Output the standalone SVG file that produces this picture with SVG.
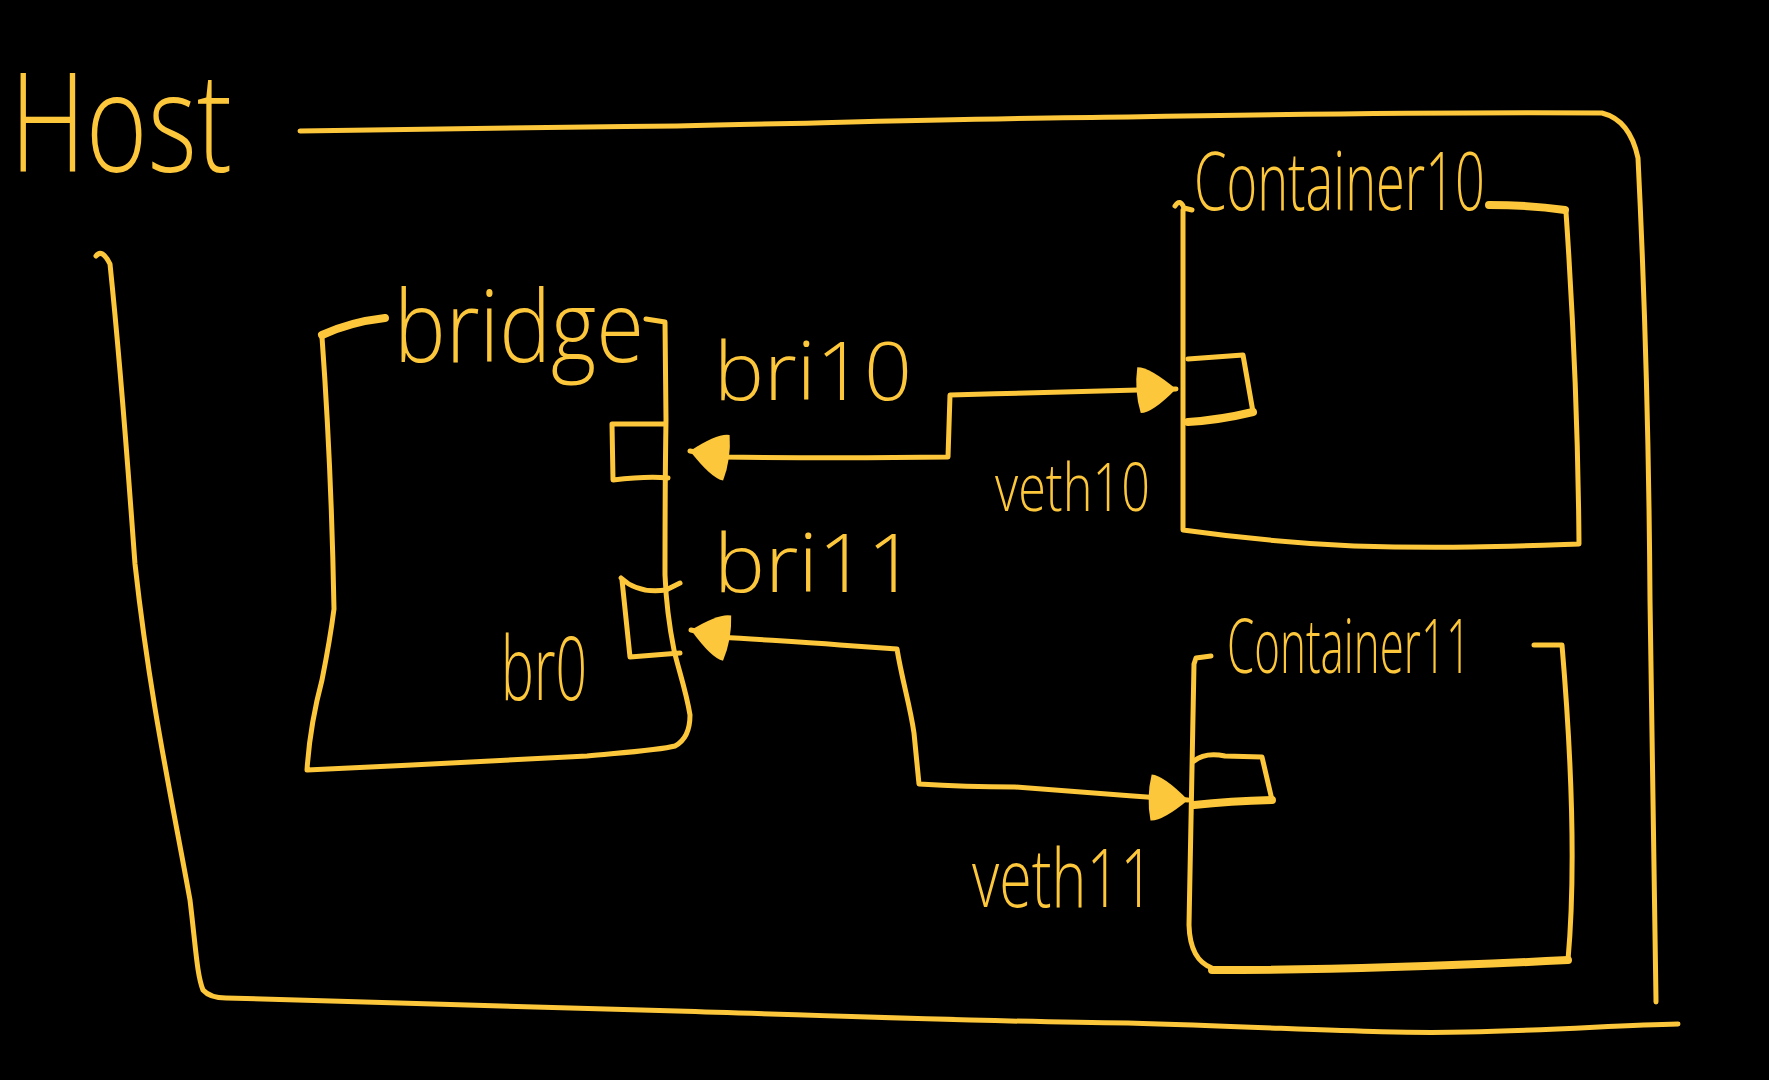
<svg xmlns="http://www.w3.org/2000/svg" width="1769" height="1080" viewBox="0 0 1769 1080">
<defs>
<style>
.ln{fill:none;stroke:#FDC73C;stroke-width:5;stroke-linecap:round;stroke-linejoin:round}
.thk{stroke-width:8}
.tx{fill:#FDC73C;font-family:"Open Sans","Liberation Sans",sans-serif;font-weight:300}
</style>
<marker id="ah" markerUnits="userSpaceOnUse" markerWidth="44" markerHeight="54" viewBox="0 0 44 54" refX="42" refY="27" orient="auto-start-reverse">
<path d="M4,4 Q16,4 42,27 Q18,50 6,50 Q0,27 4,4 Z" fill="#FDC73C"/>
</marker>
</defs>
<rect width="1769" height="1080" fill="#000"/>

<g id="host">
<text class="tx" x="10" y="172" font-size="138" textLength="222" lengthAdjust="spacingAndGlyphs">Host</text>
<path class="ln" d="M300,131 C450,128 560,127 677,126 C900,121 1000,118 1128,117 C1300,114 1450,112 1602,113 Q1630,120 1638,158 C1645,300 1649,451 1650,600 C1652,800 1655,900 1656,1002"/>
<path class="ln" d="M96,256 Q102,248 110,264 C122,380 128,470 135,564 C150,700 172,800 190,900 C196,950 197,975 203,990 Q210,998 226,998 C420,1004 560,1009 677,1011 C900,1018 1000,1022 1128,1023 C1300,1028 1380,1034 1466,1032 C1560,1030 1620,1025 1678,1024"/>
</g>

<g id="bridge">
<text class="tx" x="394" y="362" font-size="100" textLength="250" lengthAdjust="spacingAndGlyphs">bridge</text>
<path class="ln thk" d="M322,335 Q350,322 385,318"/>
<path class="ln" d="M322,337 C328,420 332,500 334,609 C330,640 326,660 322,680 C314,710 309,740 307,770 C400,766 500,760 587,756 C630,752 660,750 675,746 Q690,738 690,715 C686,690 678,668 674,650 C668,620 666,600 665,575 C665,520 665,480 666,420 L665,322 L646,319"/>
<path class="ln" d="M664,424 L612,424 L613,480 C630,478 648,476 668,478"/>
<path class="ln" d="M621,578 Q638,594 666,590 L680,583 M622,580 L630,657 L680,653"/>
<text class="tx" x="501" y="700" font-size="88" textLength="86" lengthAdjust="spacingAndGlyphs">br0</text>
</g>

<g id="bri10">
<text class="tx" x="714" y="400" font-size="82" textLength="198" lengthAdjust="spacingAndGlyphs">bri10</text>
</g>
<g id="bri11">
<text class="tx" x="714" y="592" font-size="82" textLength="202" lengthAdjust="spacingAndGlyphs">bri11</text>
</g>

<g id="container10">
<text class="tx" x="1194" y="210" font-size="82" textLength="291" lengthAdjust="spacingAndGlyphs">Container10</text>
<path class="ln" d="M1175,206 Q1180,198 1184,208 L1192,210 M1183,210 C1182,320 1183,430 1183,530 C1240,538 1290,543 1354,546 C1450,549 1520,546 1579,544 C1578,420 1572,300 1566,212"/>
<path class="ln thk" d="M1489,205 Q1530,205 1565,210"/>
<path class="ln" d="M1188,359 L1243,355 L1253,412"/>
<path class="ln thk" d="M1188,422 Q1220,420 1253,412"/>
</g>

<g id="veth10">
<text class="tx" x="995" y="511" font-size="66" textLength="155" lengthAdjust="spacingAndGlyphs">veth10</text>
</g>

<g id="container11">
<text class="tx" x="1227" y="673" font-size="76" textLength="244" lengthAdjust="spacingAndGlyphs">Container11</text>
<path class="ln" d="M1194,664 L1196,658 L1211,656 M1194,664 C1192,760 1191,850 1189,925 Q1190,960 1212,968 M1534,645 L1562,645 C1570,740 1577,860 1568,960"/>
<path class="ln thk" d="M1212,970 C1330,970 1450,966 1568,960"/>
<path class="ln" d="M1194,761 Q1205,752 1225,756 L1262,757 L1272,800"/>
<path class="ln thk" d="M1194,805 Q1230,801 1272,800"/>
</g>

<g id="veth11">
<text class="tx" x="972" y="907" font-size="82" textLength="182" lengthAdjust="spacingAndGlyphs">veth11</text>
</g>

<g id="connectors">
<path class="ln" marker-start="url(#ah)" marker-end="url(#ah)" d="M690,451 L722,457 C800,458 880,458 948,457 L950,395 C1020,393 1080,392 1176,389"/>
<path class="ln" marker-start="url(#ah)" marker-end="url(#ah)" d="M691,630 L722,637 C760,640 790,641 840,645 L897,649 C902,680 910,705 914,733 L919,784 C950,786 980,787 1015,787 C1080,792 1130,796 1188,800"/>
</g>
</svg>
